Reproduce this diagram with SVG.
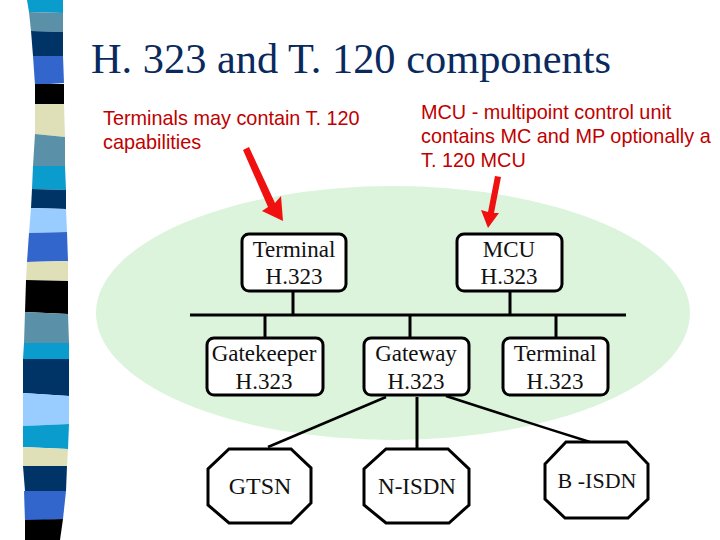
<svg xmlns="http://www.w3.org/2000/svg" width="720" height="540" viewBox="0 0 720 540">
<defs>
<style>
.title{font:42.4px "Liberation Serif",serif;fill:#0a2a5e}
.note{font:19.85px "Liberation Sans",sans-serif;fill:#c00000}
.lbl{font:23px "Liberation Serif",serif;fill:#111;text-anchor:middle}
.box{fill:#fff;stroke:#000;stroke-width:3}
.ln{stroke:#000;fill:none}
.arr{fill:#f01010}
</style>
</defs>
<rect width="720" height="540" fill="#fff"/>
<g id="stripes">
<polygon fill="#0a9ccc" points="27,0 63,0 63,13 29,12"/>
<polygon fill="#5a90a8" points="29,12 63,13 63,32 31,31"/>
<polygon fill="#003366" points="31,31 63,32 63,56 33,56"/>
<polygon fill="#3366cc" points="33,56 63,56 64,83 35,85"/>
<polygon fill="#000" points="35,84 64,84 64,104 35,104"/>
<polygon fill="#e0e0b8" points="35,104 64,104 65,137 35,134"/>
<polygon fill="#5a90a8" points="35,134 65,137 65,166 33,166"/>
<polygon fill="#0a9ccc" points="33,166 65,166 66,190 32,189"/>
<polygon fill="#003366" points="32,189 66,190 66,209 31,208"/>
<polygon fill="#99ccff" points="31,208 66,209 67,232 29,233"/>
<polygon fill="#3366cc" points="29,233 67,232 68,261 27,262"/>
<polygon fill="#e0e0b8" points="27,262 68,261 68,281 26,280"/>
<polygon fill="#000" points="26,280 68,281 68,314 25,312"/>
<polygon fill="#5a90a8" points="25,312 68,314 69,343 24,343"/>
<polygon fill="#0a9ccc" points="24,343 69,343 69,359 23,359"/>
<polygon fill="#003366" points="23,359 69,359 69,396 23,393"/>
<polygon fill="#99ccff" points="23,393 69,396 69,424 23,426"/>
<polygon fill="#0a9ccc" points="23,426 69,424 68,449 23,447"/>
<polygon fill="#e0e0b8" points="23,447 68,449 67,466 23,466"/>
<polygon fill="#003366" points="23,466 67,466 66,491 25,491"/>
<polygon fill="#3366cc" points="24,491 66,491 63,519 25,521"/>
<polygon fill="#000" points="25,520 63,519 60,540 25,540"/>
</g>
<text class="title" x="91" y="73">H. 323 and T. 120 components</text>
<ellipse id="cloud" cx="393" cy="313" rx="297" ry="127" fill="#dbf4db"/>
<g id="connectors">
<path class="ln" stroke-width="3" d="M190,315H626M293,292V315M265,315V337M410,315V337M510,292V315M556,315V337M417,397V448"/>
<path class="ln" stroke-width="2.5" d="M386,397L268,447M446,396Q520,420 590,442"/>
<polygon class="arr" points="243,150 249,147 275,203 281,196 283,221 262,211 268,207"/>
<polygon class="arr" points="495,176 501,177 494,213 499,213 488,228 481,210 488,212"/>
</g>
<g id="note1"><text class="note" x="103" y="124.500">Terminals may contain T. 120</text><text class="note" x="103" y="148.500">capabilities</text></g>
<g id="note2"><text class="note" x="421" y="119">MCU - multipoint control unit</text><text class="note" x="421" y="143">contains MC and MP optionally a</text><text class="note" x="421" y="167">T. 120 MCU</text></g>
<g id="terminal1"><rect class="box" x="242" y="234" width="104" height="57" rx="7"/><text class="lbl" x="294" y="257">Terminal</text><text class="lbl" x="294" y="284">H.323</text></g>
<g id="mcu"><rect class="box" x="457" y="234" width="105" height="57" rx="7"/><text class="lbl" x="509" y="257">MCU</text><text class="lbl" x="509" y="284">H.323</text></g>
<g id="gatekeeper"><rect class="box" x="207" y="338" width="116" height="57" rx="7"/><text class="lbl" x="264" y="361">Gatekeeper</text><text class="lbl" x="264" y="389">H.323</text></g>
<g id="gateway"><rect class="box" x="364" y="338" width="105" height="57" rx="7"/><text class="lbl" x="416" y="361">Gateway</text><text class="lbl" x="416" y="389">H.323</text></g>
<g id="terminal2"><rect class="box" x="503" y="338" width="105" height="57" rx="7"/><text class="lbl" x="555" y="361">Terminal</text><text class="lbl" x="555" y="389">H.323</text></g>
<g id="gtsn"><polygon class="box" points="229,449 291,449 311,468 311,503 291,523 229,523 208,505 208,469"/><text class="lbl" x="260" y="494" style="font-size:24px">GTSN</text></g>
<g id="nisdn"><polygon class="box" points="386,449 448,449 469,469 469,505 449,523 386,523 364,505 364,469"/><text class="lbl" x="417" y="494">N-ISDN</text></g>
<g id="bisdn"><polygon class="box" points="566,442 627,442 648,464 648,499 628,518 565,518 545,499 545,464"/><text class="lbl" x="597" y="488" style="font-size:22px">B -ISDN</text></g>
</svg>
